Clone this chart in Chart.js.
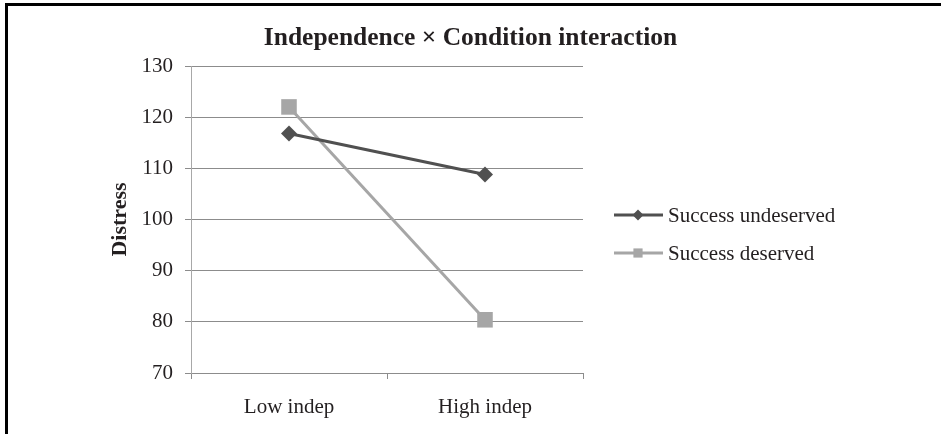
<!DOCTYPE html>
<html>
<head>
<meta charset="utf-8">
<script src="https://cdn.jsdelivr.net/npm/chart.js@4"></script>
<style>
  html, body { margin: 0; padding: 0; background: #fff; }
  #wrap { width: 941px; height: 434px; }
</style>
</head>
<body>
<div id="wrap"><canvas id="interactionChart" width="941" height="434"></canvas></div>
<script>
const categories = ['Low indep', 'High indep'];
const seriesNames = ['Success undeserved', 'Success deserved'];
const undeservedValues = [116.8, 108.8];
const deservedValues = [122.0, 80.4];
const yTicks = [70, 80, 90, 100, 110, 120, 130];
const chartTitle = 'Independence \u00d7 Condition interaction';
const yTitle = 'Distress';

const serif = "'Liberation Serif', 'Times New Roman', serif";
const textColor = '#231f20';

// black frame on top and left, like the scanned figure
const framePlugin = {
    id: 'frame',
    beforeDraw(chart) {
        const ctx = chart.ctx;
        ctx.save();
        ctx.fillStyle = '#000';
        ctx.fillRect(5, 3, chart.width - 5, 3);
        ctx.fillRect(5, 3, 3, chart.height - 3);
        ctx.restore();
    }
};

// title centred on the whole figure
const titlePlugin = {
    id: 'centredTitle',
    afterDraw(chart) {
        const ctx = chart.ctx;
        ctx.save();
        ctx.font = 'bold 25.5px ' + serif;
        ctx.fillStyle = textColor;
        ctx.textAlign = 'center';
        ctx.textBaseline = 'middle';
        ctx.fillText(chartTitle, chart.width / 2, 38);
        ctx.restore();
    }
};

// legend with line + marker, drawn to the right of the plot
const legendPlugin = {
    id: 'lineLegend',
    afterDraw(chart) {
        const ctx = chart.ctx;
        const rows = [215, 253];
        ctx.save();
        chart.data.datasets.forEach((ds, i) => {
            const y = rows[i];
            ctx.strokeStyle = ds.borderColor;
            ctx.lineWidth = 3;
            ctx.beginPath();
            ctx.moveTo(614, y);
            ctx.lineTo(663, y);
            ctx.stroke();
            ctx.fillStyle = ds.pointBackgroundColor;
            ctx.strokeStyle = ds.pointBorderColor;
            Chart.helpers.drawPoint(ctx, {
                pointStyle: ds.pointStyle,
                radius: ds.legendRadius,
                rotation: 0,
                borderWidth: 0
            }, 638, y);
            ctx.font = '21px ' + serif;
            ctx.fillStyle = textColor;
            ctx.textAlign = 'left';
            ctx.textBaseline = 'middle';
            ctx.fillText(ds.label, 668, y + 1);
        });
        ctx.restore();
    }
};

const ctx = document.getElementById('interactionChart').getContext('2d');
new Chart(ctx, {
    type: 'line',
    data: {
        labels: categories,
        datasets: [{
            label: seriesNames[0],
            data: undeservedValues,
            borderColor: '#505050',
            backgroundColor: '#505050',
            pointBackgroundColor: '#505050',
            pointBorderColor: '#505050',
            pointStyle: 'rectRot',
            pointRadius: 8,
            pointBorderWidth: 0,
            legendRadius: 5.5,
            borderWidth: 3,
            fill: false,
            tension: 0
        }, {
            label: seriesNames[1],
            data: deservedValues,
            borderColor: '#a6a6a6',
            backgroundColor: '#a6a6a6',
            pointBackgroundColor: '#a6a6a6',
            pointBorderColor: '#a6a6a6',
            pointStyle: 'rect',
            pointRadius: 11,
            pointBorderWidth: 0,
            legendRadius: 6.5,
            borderWidth: 3,
            fill: false,
            tension: 0
        }]
    },
    options: {
        responsive: false,
        animation: false,
        devicePixelRatio: 1,
        layout: {
            padding: { left: 100, right: 358, top: 66, bottom: 0 }
        },
        scales: {
            x: {
                offset: true,
                afterFit: scale => {
                    scale.height = 61;
                },
                grid: {
                    offset: true,
                    drawOnChartArea: false,
                    drawTicks: true,
                    tickLength: 6,
                    color: '#8c8c8c'
                },
                border: { color: '#8c8c8c' },
                ticks: {
                    color: textColor,
                    padding: 16,
                    maxRotation: 0,
                    font: { family: serif, size: 21 }
                }
            },
            y: {
                min: 70,
                max: 130,
                afterBuildTicks: scale => {
                    scale.ticks = yTicks.map(v => ({ value: v }));
                },
                afterFit: scale => {
                    scale.width = 91;
                },
                grid: {
                    color: '#8c8c8c',
                    drawTicks: true,
                    tickLength: 6
                },
                border: { color: '#a8a8a8' },
                ticks: {
                    color: textColor,
                    padding: 12,
                    font: { family: serif, size: 21 }
                },
                title: {
                    display: true,
                    text: yTitle,
                    color: textColor,
                    padding: { top: 7, bottom: 0 },
                    font: { family: serif, size: 22, weight: 'bold' }
                }
            }
        },
        plugins: {
            legend: { display: false },
            title: { display: false },
            tooltip: { enabled: false }
        }
    },
    plugins: [framePlugin, titlePlugin, legendPlugin]
});
</script>
</body>
</html>
